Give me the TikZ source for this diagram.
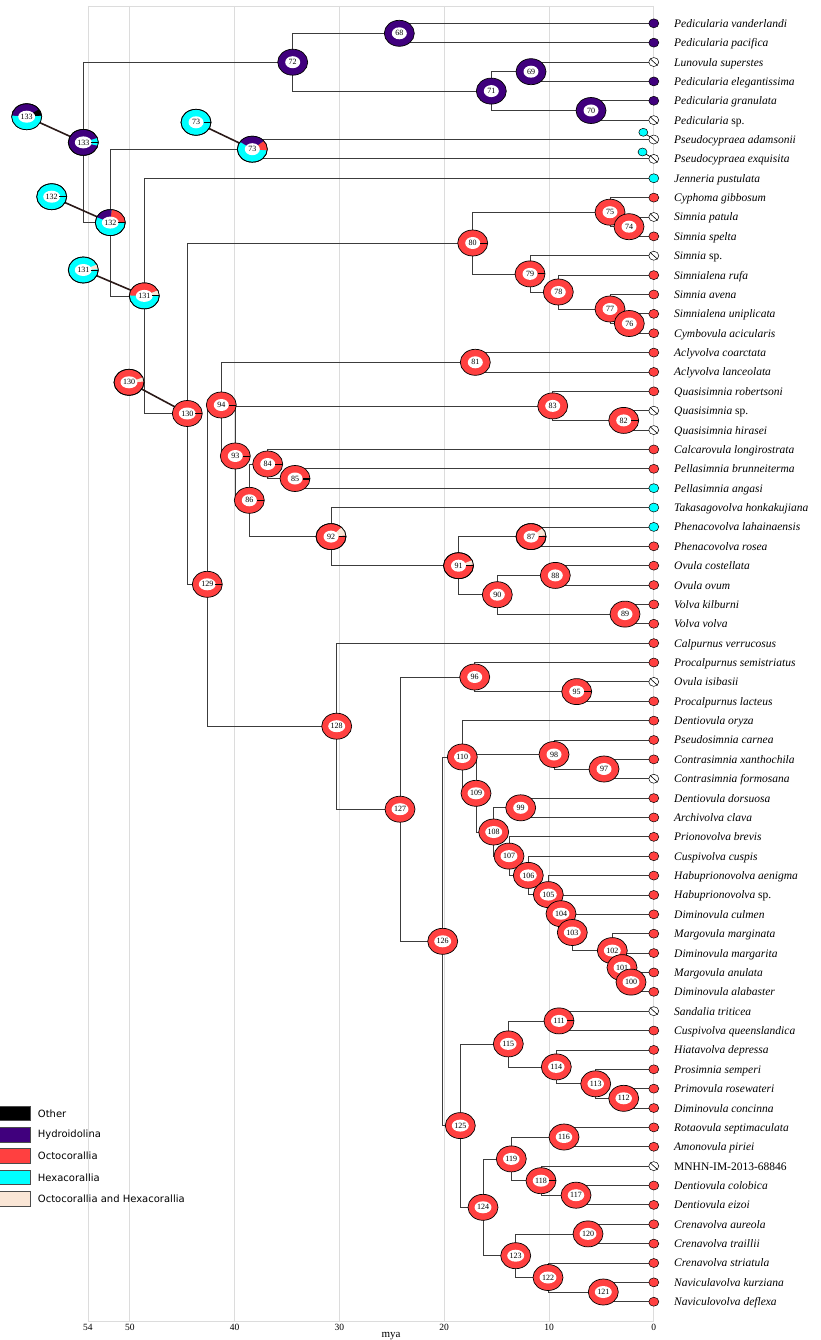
\documentclass[tikz,border=0pt]{standalone}
\usepackage{fontspec}
\setmainfont{Liberation Serif}
\newfontfamily\legfont{DejaVu Sans}
\usetikzlibrary{shapes.geometric}
\definecolor{hyd}{RGB}{64,0,125}
\definecolor{oct}{RGB}{255,64,64}
\definecolor{hex}{RGB}{0,255,255}
\definecolor{both}{RGB}{250,230,214}
\definecolor{brc}{RGB}{60,60,60}
\definecolor{ancc}{RGB}{43,26,24}
\definecolor{gridc}{RGB}{220,220,220}
\pgfdeclarelayer{bg}
\pgfsetlayers{bg,main}
\tikzset{
 ring/.style={ellipse, minimum width=30pt, minimum height=26pt, inner sep=0pt, draw=black, line width=0.7pt},
 inlab/.style={ellipse, fill=white, minimum width=15pt, minimum height=12pt, inner sep=0pt, font=\fontsize{8}{9}\selectfont},
 tipn/.style={ellipse, minimum width=10pt, minimum height=9pt, inner sep=0pt, draw=black, line width=0.5pt},
 tiplab/.style={anchor=base west, inner sep=0pt, font=\fontsize{11.5}{13}\selectfont\itshape},
 br/.style={draw=brc, line width=0.8pt},
 anc/.style={draw=ancc, line width=1.6pt},
 gridl/.style={draw=gridc, line width=0.7pt},
 legbox/.style={rectangle, minimum width=31.5pt, minimum height=14.7pt, inner sep=0pt, draw=black!70, line width=0.5pt},
 legtxt/.style={anchor=west, inner sep=0pt, font=\legfont\fontsize{10}{12}\selectfont},
 axlab/.style={anchor=base, inner sep=0pt, font=\fontsize{9.5}{11}\selectfont},
}
\newcommand\pnode[5]{%
 \node[ring, fill=#5] (#1) at (#2,#3) {};
 \node[inlab] (#1l) at (#1.center) {#4};}
\newcommand\pnodes[6]{%
 \node[ring, fill=#5] (#1) at (#2,#3) {};
 \foreach \sa/\sb/\sc in {#6}{\fill[fill=\sc] (#1.center) -- ++({-(\sa)}:15 and 13) arc[start angle={-(\sa)}, end angle={-(\sb)}, x radius=15, y radius=13] -- cycle;}
 \draw[line width=0.7pt] (#1.center) ellipse [x radius=15pt, y radius=13pt];
 \node[inlab] (#1l) at (#1.center) {#4};}
\newcommand\ptick[2][0.9pt]{\draw[line width=#1, black] (#2.center) ++(7.5,0) -- ++(7.5,0);}
\begin{document}
\begin{tikzpicture}[x=1pt,y=-1pt]
\useasboundingbox (0,0) rectangle (821,1340);
% nodes, drawn from 133 down to 68
\pnodes{n133L}{26.7}{116.7}{133}{hyd}{175/365/hex, 5/35/black}
\pnodes{n133}{83.3}{142.4}{133}{hyd}{-15/20/hex}\ptick{n133}
\pnodes{n132L}{51.7}{196.7}{132}{hex}{0/0/hex}\ptick{n132L}
\pnodes{n132}{110.3}{222.6}{132}{hex}{0/85/oct, 85/155/hyd}\ptick{n132}
\pnodes{n131L}{83.3}{270}{131}{hex}{3/25/both}\ptick{n131L}
\pnodes{n131}{144.3}{295.9}{131}{hex}{25/178/oct, 3/25/both}\ptick{n131}
\pnodes{n130L}{129}{382.3}{130}{oct}{3/22/both}
\pnode{n130}{187.3}{413.5}{130}{oct}\ptick{n130}
\pnode{n129}{207.3}{584.3}{129}{oct}\ptick{n129}
\pnode{n128}{336.7}{726.2}{128}{oct}
\pnode{n127}{400}{809.2}{127}{oct}
\pnode{n126}{442.7}{941.3}{126}{oct}
\pnode{n125}{460.3}{1125.6}{125}{oct}
\pnode{n124}{483}{1207.3}{124}{oct}
\pnode{n123}{515.7}{1255.7}{123}{oct}
\pnode{n122}{548}{1277.5}{122}{oct}
\pnode{n121}{603.3}{1292}{121}{oct}
\pnode{n120}{588}{1233.9}{120}{oct}
\pnode{n119}{511.3}{1158.9}{119}{oct}
\pnode{n118}{541}{1180.7}{118}{oct}\ptick{n118}
\pnode{n117}{576}{1195.2}{117}{oct}
\pnode{n116}{564}{1137}{116}{oct}
\pnode{n115}{508.3}{1043.9}{115}{oct}
\pnode{n114}{556.3}{1066.9}{114}{oct}
\pnode{n113}{595.7}{1083.8}{113}{oct}
\pnode{n112}{623.7}{1098.3}{112}{oct}
\pnode{n111}{559}{1020.9}{111}{oct}\ptick{n111}
\pnode{n110}{462.3}{757}{110}{oct}
\pnode{n109}{476}{793.3}{109}{oct}
\pnode{n108}{493.7}{832}{108}{oct}
\pnode{n107}{509}{856.1}{107}{oct}
\pnode{n106}{528.3}{875.4}{106}{oct}
\pnode{n105}{548.3}{894.6}{105}{oct}
\pnode{n104}{561}{913.7}{104}{oct}
\pnode{n103}{572.3}{932.5}{103}{oct}
\pnode{n102}{612.3}{950.6}{102}{oct}
\pnode{n101}{622}{967.6}{101}{oct}
\pnode{n100}{631}{982.1}{100}{oct}
\pnode{n99}{520.7}{807.8}{99}{oct}
\pnode{n98}{554}{754.5}{98}{oct}
\pnode{n97}{604}{769}{97}{oct}
\pnode{n96}{474.7}{677}{96}{oct}
\pnode{n95}{576.7}{691.6}{95}{oct}\ptick{n95}
\pnode{n94}{221.3}{405}{94}{oct}\ptick{n94}
\pnode{n93}{235.3}{456}{93}{oct}\ptick{n93}
\pnodes{n92}{331}{536.6}{92}{oct}{5/45/both}\ptick{n92}
\pnodes{n91}{458.5}{565.7}{91}{oct}{5/25/both}\ptick{n91}
\pnode{n90}{497.3}{594.7}{90}{oct}
\pnode{n89}{625}{614.1}{89}{oct}
\pnode{n88}{555.3}{575.4}{88}{oct}
\pnodes{n87}{531}{536.6}{87}{oct}{5/40/both}\ptick{n87}
\pnode{n86}{249.3}{500.3}{86}{oct}\ptick{n86}
\pnode{n85}{295}{478.5}{85}{oct}\ptick[2pt]{n85}
\pnode{n84}{267.7}{464}{84}{oct}\ptick{n84}
\pnode{n83}{552.7}{405.9}{83}{oct}
\pnode{n82}{623.7}{420.4}{82}{oct}\ptick{n82}
\pnode{n81}{475.3}{362.3}{81}{oct}
\pnode{n80}{472.7}{243}{80}{oct}\ptick{n80}
\pnode{n79}{530}{273.9}{79}{oct}\ptick{n79}
\pnode{n78}{558.3}{292}{78}{oct}
\pnode{n77}{610}{309}{77}{oct}
\pnode{n76}{629.3}{323.5}{76}{oct}
\pnode{n75}{610}{212.2}{75}{oct}
\pnode{n74}{629}{226.7}{74}{oct}
\pnodes{n73L}{196}{122.3}{73}{hex}{0/0/hex}\ptick{n73L}
\pnodes{n73}{252.3}{149.2}{73}{hex}{-5/40/oct, 40/145/hyd}
\pnode{n72}{292.7}{62.2}{72}{hyd}
\pnode{n71}{491.3}{91.1}{71}{hyd}
\pnode{n70}{591}{110.5}{70}{hyd}
\pnode{n69}{531}{71.7}{69}{hyd}
\pnode{n68}{399.3}{33.3}{68}{hyd}
% tips
\foreach \i/\c/\lab in {
1/hyd/{Pedicularia vanderlandi}, 2/hyd/{Pedicularia pacifica}, 3/white/{Lunovula superstes},
4/hyd/{Pedicularia elegantissima}, 5/hyd/{Pedicularia granulata}, 6/white/{Pedicularia \textup{sp.}},
7/white/{Pseudocypraea adamsonii}, 8/white/{Pseudocypraea exquisita}, 9/hex/{Jenneria pustulata},
10/oct/{Cyphoma gibbosum}, 11/white/{Simnia patula}, 12/oct/{Simnia spelta}, 13/white/{Simnia \textup{sp.}},
14/oct/{Simnialena rufa}, 15/oct/{Simnia avena}, 16/oct/{Simnialena uniplicata}, 17/oct/{Cymbovula acicularis},
18/oct/{Aclyvolva coarctata}, 19/oct/{Aclyvolva lanceolata}, 20/oct/{Quasisimnia robertsoni},
21/white/{Quasisimnia \textup{sp.}}, 22/white/{Quasisimnia hirasei}, 23/oct/{Calcarovula longirostrata},
24/oct/{Pellasimnia brunneiterma}, 25/hex/{Pellasimnia angasi}, 26/hex/{Takasagovolva honkakujiana},
27/hex/{Phenacovolva lahainaensis}, 28/oct/{Phenacovolva rosea}, 29/oct/{Ovula costellata},
30/oct/{Ovula ovum}, 31/oct/{Volva kilburni}, 32/oct/{Volva volva}, 33/oct/{Calpurnus verrucosus},
34/oct/{Procalpurnus semistriatus}, 35/white/{Ovula isibasii}, 36/oct/{Procalpurnus lacteus},
37/oct/{Dentiovula oryza}, 38/oct/{Pseudosimnia carnea}, 39/oct/{Contrasimnia xanthochila},
40/white/{Contrasimnia formosana}, 41/oct/{Dentiovula dorsuosa}, 42/oct/{Archivolva clava},
43/oct/{Prionovolva brevis}, 44/oct/{Cuspivolva cuspis}, 45/oct/{Habuprionovolva aenigma},
46/oct/{Habuprionovolva \textup{sp.}}, 47/oct/{Diminovula culmen}, 48/oct/{Margovula marginata},
49/oct/{Diminovula margarita}, 50/oct/{Margovula anulata}, 51/oct/{Diminovula alabaster},
52/white/{Sandalia triticea}, 53/oct/{Cuspivolva queenslandica}, 54/oct/{Hiatavolva depressa},
55/oct/{Prosimnia semperi}, 56/oct/{Primovula rosewateri}, 57/oct/{Diminovula concinna},
58/oct/{Rotaovula septimaculata}, 59/oct/{Amonovula piriei}, 60/white/{\textup{MNHN-IM-2013-68846}},
61/oct/{Dentiovula colobica}, 62/oct/{Dentiovula eizoi}, 63/oct/{Crenavolva aureola},
64/oct/{Crenavolva traillii}, 65/oct/{Crenavolva striatula}, 66/oct/{Naviculavolva kurziana},
67/oct/{Naviculovolva deflexa}}{
 \pgfmathsetmacro\ty{23.3+(\i-1)*19.37}
 \node[tipn, fill=\c] (t\i) at (653.8,\ty) {};
 \node[tiplab] (tl\i) at (674,\ty+4) {\lab};
}
\foreach \i in {3,6,7,8,11,13,21,22,35,40,52,60}{\draw[line width=0.6pt] (t\i.north west) -- (t\i.south east);}
\node[tipn, fill=hex, minimum width=9pt, minimum height=8pt] (a7) at (643.3,132.3) {};
\node[tipn, fill=hex, minimum width=9pt, minimum height=8pt] (a8) at (642.5,152) {};
% legend
\foreach \k/\c/\t/\yy in {1/black/Other/1113.3, 2/hyd/Hydroidolina/1134.7, 3/oct/Octocorallia/1156, 4/hex/Hexacorallia/1177.3, 5/both/Octocorallia and Hexacorallia/1198.7}{
 \node[legbox, fill=\c] (lg\k) at (14.8,\yy) {};
 \node[legtxt] (lt\k) at (37.7,\yy) {\t};
}
% axis labels
\foreach \t in {54,50,40,30,20,10,0}{\node[axlab] (ax\t) at ({653.8-10.48*\t},1330) {\t};}
\node[anchor=base, inner sep=0pt, font=\fontsize{11}{13}\selectfont] (mya) at (391,1337) {mya};
\begin{pgfonlayer}{bg}
 \foreach \t in {54,50,40,30,20,10,0}{\draw[gridl] ({653.8-10.48*\t},6) -- ({653.8-10.48*\t},1321.7);}
 \draw[gridl] (87.9,6) -- (653.8,6);
 \draw[draw=gridc, line width=1.5pt] (87.9,1321.7) -- (653.8,1321.7);
 \foreach \a/\b in {n133/n72, n133/n132, n72/n68, n72/n71, n68/t1, n68/t2, n71/n69, n71/n70, n69/t3, n69/t4, n70/t5, n70/t6,
 n132/n73, n132/n131, n73/t7, n73/t8, n131/t9, n131/n130, n130/n80, n130/n129,
 n80/n75, n80/n79, n75/t10, n75/n74, n74/t11, n74/t12, n79/t13, n79/n78, n78/t14, n78/n77, n77/t15, n77/n76, n76/t16, n76/t17,
 n129/n94, n129/n128, n94/n81, n94/n93, n81/t18, n81/t19, n93/n83, n93/n86, n83/t20, n83/n82, n82/t21, n82/t22,
 n86/n84, n86/n92, n84/t23, n84/n85, n85/t24, n85/t25, n92/t26, n92/n91, n91/n87, n91/n90, n87/t27, n87/t28, n90/n88, n90/n89, n88/t29, n88/t30, n89/t31, n89/t32,
 n128/t33, n128/n127, n127/n96, n127/n126, n96/t34, n96/n95, n95/t35, n95/t36,
 n126/n110, n126/n125, n110/t37, n110/n109, n109/n98, n109/n108, n98/t38, n98/n97, n97/t39, n97/t40, n108/n99, n108/n107, n99/t41, n99/t42, n107/t43, n107/n106, n106/t44, n106/n105, n105/t45, n105/n104, n104/t46, n104/n103, n103/t47, n103/n102, n102/t48, n102/n101, n101/t49, n101/n100, n100/t50, n100/t51,
 n125/n115, n125/n124, n115/n111, n115/n114, n111/t52, n111/t53, n114/t54, n114/n113, n113/t55, n113/n112, n112/t56, n112/t57,
 n124/n119, n124/n123, n119/n116, n119/n118, n116/t58, n116/t59, n118/t60, n118/n117, n117/t61, n117/t62, n123/n120, n123/n122, n120/t63, n120/t64, n122/t65, n122/n121, n121/t66, n121/t67}{
  \draw[br] (\a.center) |- (\b.center);
 }
 \foreach \a/\b in {n133L/n133, n132L/n132, n131L/n131, n130L/n130, n73L/n73}{\draw[anc] (\a.center) -- (\b.center);}
 \draw[line width=0.7pt] (a7.center) -- (t7.center);
 \draw[line width=0.7pt] (a8.center) -- (t8.center);
\end{pgfonlayer}
\end{tikzpicture}
\end{document}
